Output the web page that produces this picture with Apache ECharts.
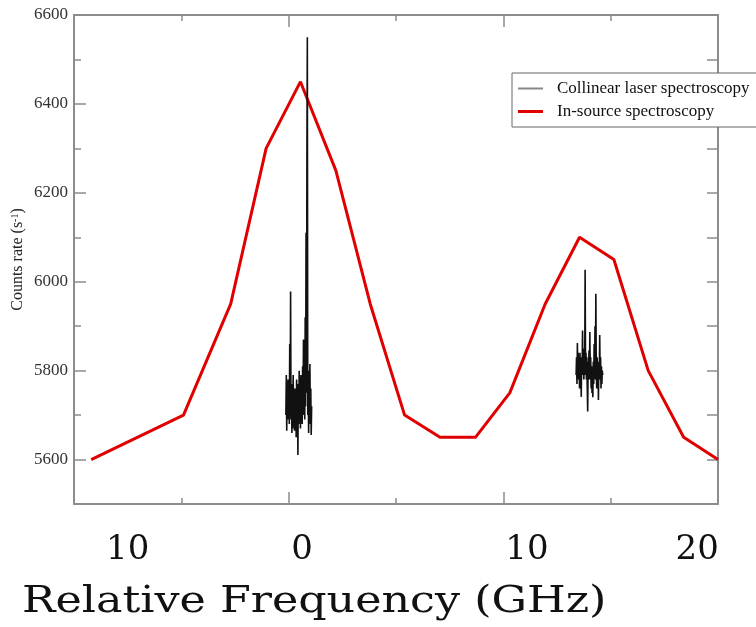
<!DOCTYPE html>
<html><head><meta charset="utf-8">
<script src="https://cdn.jsdelivr.net/npm/echarts@6/dist/echarts.min.js"></script>
<style>html,body{margin:0;padding:0;background:#fff}#c{width:756px;height:627px}</style>
</head><body><div id="c"></div>
<script>
// In-source spectroscopy (red)
const inSourceGhz = [-9.2, -4.9, -2.7, -1.05, 0.55, 2.2, 3.8, 5.4, 7.05, 8.7, 10.3, 11.95, 13.55, 15.15, 16.75, 18.4, 20.0];
const inSourceCounts = [5600, 5700, 5950, 6300, 6450, 6250, 5950, 5700, 5650, 5650, 5750, 5950, 6100, 6050, 5800, 5650, 5600];

// Collinear laser spectroscopy, scan near 0 GHz
const scan1Ghz = [-0.13,-0.11,-0.09,-0.07,-0.05,-0.03,-0.01,0.01,0.03,0.05,0.07,0.09,0.11,0.13,0.15,0.17,0.19,0.21,0.23,0.25,0.27,0.29,0.31,0.33,0.35,0.37,0.39,0.41,0.43,0.45,0.47,0.49,0.51,0.53,0.55,0.57,0.59,0.61,0.63,0.65,0.67,0.69,0.71,0.73,0.75,0.77,0.79,0.81,0.83,0.85,0.87,0.89,0.91,0.93,0.95,0.97,0.99,1.01,1.03,1.05,1.07];
const scan1Counts = [5700,5790,5665,5760,5690,5780,5720,5750,5680,5860,5700,5978,5690,5770,5660,5740,5670,5790,5680,5730,5665,5760,5690,5745,5650,5780,5700,5740,5610,5770,5680,5800,5690,5750,5670,5790,5700,5760,5680,5810,5720,5870,5700,5780,5690,5920,5720,6110,5750,6290,6550,5700,5780,5660,5800,5700,5815,5680,5760,5655,5720];

// Collinear laser spectroscopy, scan near 14 GHz
const scan2Ghz = [13.39,13.41,13.43,13.45,13.47,13.49,13.51,13.53,13.55,13.57,13.59,13.61,13.63,13.65,13.67,13.69,13.71,13.73,13.75,13.77,13.79,13.81,13.83,13.85,13.87,13.89,13.91,13.93,13.95,13.97,13.99,14.01,14.03,14.05,14.07,14.09,14.11,14.13,14.15,14.17,14.19,14.21,14.23,14.25,14.27,14.29,14.31,14.33,14.35,14.37,14.39,14.41,14.43,14.45,14.47,14.49,14.51,14.53,14.55,14.57,14.59,14.61,14.63];
const scan2Counts = [5790,5830,5770,5862,5780,5840,5790,5820,5760,5840,5780,5800,5741,5830,5790,5890,5800,5850,5780,5830,5790,6027,5800,5840,5780,5830,5760,5708,5820,5790,5845,5780,5887,5790,5830,5760,5810,5750,5800,5740,5820,5770,5860,5790,5900,5780,5973,5800,5760,5830,5780,5810,5734,5820,5790,5880,5780,5830,5760,5810,5770,5800,5790];

// Axis tick labels
const countTicks = [5600, 5800, 6000, 6200, 6400, 6600];
const countMinorTicks = [5700, 5900, 6100, 6300, 6500];
const freqLabelPos = [-7.5, 0.62, 11.1, 19.03];
const freqLabelText = ['10', '0', '10', '20'];

const zip = (xs, ys) => xs.map((x, i) => [x, ys[i]]);
const AX = '#8c8c8c';
const SERIF = '"Liberation Serif", "Times New Roman", serif';
const SLAB = '"DejaVu Serif", serif';

const chart = echarts.init(document.getElementById('c'), null, {renderer: 'canvas'});
chart.setOption({
  animation: false,
  backgroundColor: '#fff',
  graphic: [{
    type: 'text', x: 22, y: 584, scaleX: 1.2, scaleY: 1, originX: 0, originY: 0,
    style: {text: 'Relative Frequency (GHz)', fontFamily: SLAB, fontSize: 37, fill: '#111', textVerticalAlign: 'top'}
  }],
  grid: {left: 74, right: 38, top: 15, bottom: 123, containLabel: false, outerBoundsMode: 'none'},
  legend: {
    orient: 'vertical', left: 512, top: 73,
    padding: [7, 60, 7, 6],
    itemWidth: 25, itemHeight: 14, itemGap: 6,
    backgroundColor: '#fff', borderColor: '#666', borderWidth: 1,
    textStyle: {fontFamily: SERIF, fontSize: 17, color: '#111', lineHeight: 17, padding: [0, 0, 0, 9]},
    data: [
      {name: 'Collinear laser spectroscopy', icon: 'path://M0,0L25,0L25,2L0,2Z', itemStyle: {color: '#888'}},
      {name: 'In-source spectroscopy', icon: 'path://M0,0L25,0L25,3L0,3Z', itemStyle: {color: '#e00000'}}
    ]
  },
  xAxis: [{
    type: 'value', min: -10, max: 20, interval: 10, position: 'bottom',
    axisLine: {show: true, onZero: false, lineStyle: {color: AX, width: 2}},
    axisTick: {show: true, inside: true, length: 12, lineStyle: {color: AX, width: 1.5}},
    minorTick: {show: true, splitNumber: 2, length: 6, lineStyle: {color: AX, width: 1.5}},
    splitLine: {show: false},
    axisLabel: {
      customValues: freqLabelPos, margin: 28,
      fontFamily: SLAB, fontSize: 34, lineHeight: 36, color: '#111',
      formatter: v => { let k = 0; freqLabelPos.forEach((p, i) => { if (Math.abs(p - v) < Math.abs(freqLabelPos[k] - v)) k = i; }); return freqLabelText[k]; }
    }
  }, {
    type: 'value', min: -10, max: 20, interval: 10, position: 'top',
    axisLine: {show: true, onZero: false, lineStyle: {color: AX, width: 2}},
    axisTick: {show: true, inside: true, length: 12, lineStyle: {color: AX, width: 1.5}},
    minorTick: {show: true, splitNumber: 2, length: 6, lineStyle: {color: AX, width: 1.5}},
    splitLine: {show: false}, axisLabel: {show: false}
  }],
  yAxis: [{
    type: 'value', min: 5500, max: 6600, interval: 100, position: 'left',
    name: 'Counts rate (s{sup|-1})', nameLocation: 'middle', nameGap: 48, nameMoveOverlap: false,
    nameTextStyle: {fontFamily: SERIF, fontSize: 16, color: '#222',
      rich: {sup: {fontFamily: SERIF, fontSize: 10, verticalAlign: 'top', lineHeight: 10, color: '#222'}}},
    axisLine: {show: true, onZero: false, lineStyle: {color: AX, width: 2}},
    axisTick: {show: true, inside: true, length: 12, customValues: countTicks, lineStyle: {color: AX, width: 1.5}},
    splitLine: {show: false},
    axisLabel: {customValues: countTicks, margin: 6, fontFamily: SERIF, fontSize: 17, color: '#333', formatter: v => String(v)}
  }, {
    type: 'value', min: 5500, max: 6600, interval: 100, position: 'left',
    axisLine: {show: false, onZero: false},
    axisTick: {show: true, inside: true, length: 7, customValues: countMinorTicks, lineStyle: {color: AX, width: 1.5}},
    splitLine: {show: false}, axisLabel: {show: false}
  }, {
    type: 'value', min: 5500, max: 6600, interval: 100, position: 'right',
    axisLine: {show: true, onZero: false, lineStyle: {color: AX, width: 2}},
    axisTick: {show: true, inside: true, length: 11, lineStyle: {color: AX, width: 1.5}},
    splitLine: {show: false}, axisLabel: {show: false}
  }],
  series: [{
    name: 'In-source spectroscopy', type: 'line', symbol: 'none',
    data: zip(inSourceGhz, inSourceCounts),
    lineStyle: {color: '#e00000', width: 3}, itemStyle: {color: '#e00000'}, z: 2
  }, {
    name: 'Collinear laser spectroscopy', type: 'line', symbol: 'none',
    data: zip(scan1Ghz, scan1Counts),
    lineStyle: {color: '#111', width: 1.6}, itemStyle: {color: '#888'}, z: 3
  }, {
    name: 'Collinear laser spectroscopy', type: 'line', symbol: 'none',
    data: zip(scan2Ghz, scan2Counts),
    lineStyle: {color: '#111', width: 1.6}, itemStyle: {color: '#888'}, z: 3
  }]
});
</script></body></html>
